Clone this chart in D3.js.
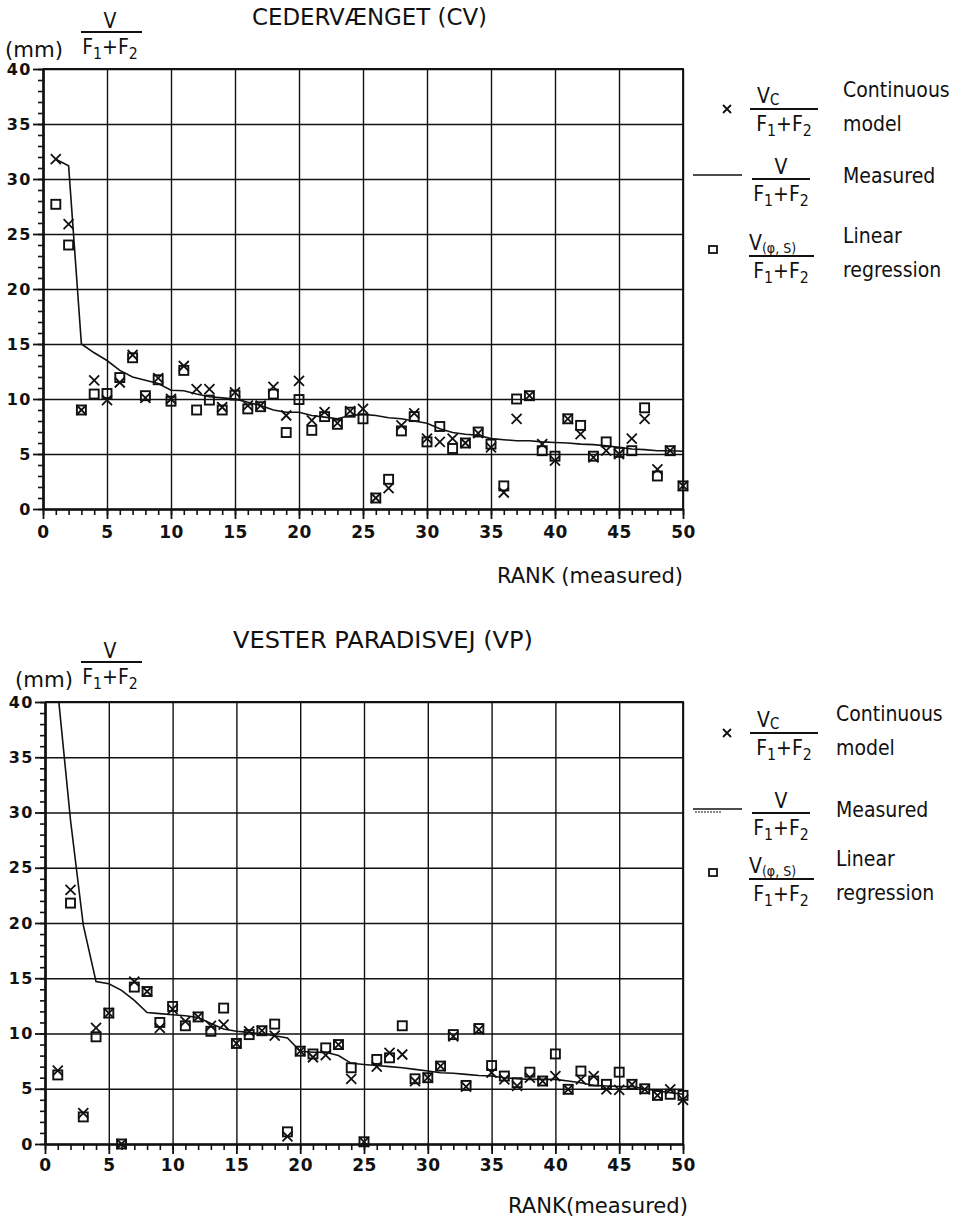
<!DOCTYPE html>
<html>
<head>
<meta charset="utf-8">
<title>V/(F1+F2) by rank</title>
<script src="https://d3js.org/d3.v7.min.js"></script>
<style>
  body { margin: 0; background: #fff; }
  svg { display: block; }
  .tick text { font-family: "DejaVu Sans", sans-serif; font-weight: bold; fill: #111; }
  .lbl { font-family: "DejaVu Sans Condensed", "DejaVu Sans", sans-serif; fill: #111; }
  .domain { stroke: #111; stroke-width: 2.2; }
  .tick line { stroke: #111; }
</style>
</head>
<body>
<svg id="chart" width="974" height="1221"></svg>
<script>
// tick values
const rankTicks = [0, 5, 10, 15, 20, 25, 30, 35, 40, 45, 50];
const valueTicks = [0, 5, 10, 15, 20, 25, 30, 35, 40];

// CEDERVÆNGET (CV), values for rank 1..50
const cvModel = [31.8, 25.9, 9.0, 11.7, 9.9, 11.5, 14.0, 10.1, 11.9, 10.0,
  13.0, 10.9, 10.9, 9.25, 10.6, 9.4, 9.4, 11.1, 8.5, 11.65,
  8.05, 8.8, 7.8, 8.9, 9.1, 1.0, 1.9, 7.6, 8.7, 6.4,
  6.1, 6.4, 6.0, 6.9, 5.6, 1.5, 8.2, 10.3, 5.9, 4.4,
  8.2, 6.8, 4.7, 5.3, 5.0, 6.4, 8.2, 3.6, 5.3, 2.1];
const cvRegression = [27.7, 24.0, 9.0, 10.45, 10.5, 11.95, 13.75, 10.3, 11.75, 9.8,
  12.6, 9.0, 9.9, 9.0, 10.35, 9.1, 9.3, 10.45, 6.95, 9.95,
  7.15, 8.4, 7.7, 8.8, 8.2, 1.0, 2.7, 7.1, 8.4, 6.1,
  7.5, 5.5, 6.0, 7.0, 5.9, 2.1, 10.0, 10.3, 5.3, 4.8,
  8.2, 7.6, 4.8, 6.1, 5.15, 5.3, 9.2, 3.0, 5.3, 2.1];
const cvMeasured = [31.8, 31.2, 15.0, 14.2, 13.5, 12.6, 12.0, 11.7, 11.4, 10.8,
  10.75, 10.45, 10.2, 10.1, 10.0, 9.7, 9.4, 9.0, 8.8, 8.8,
  8.5, 8.35, 8.2, 8.5, 8.6, 8.5, 8.3, 8.2, 8.0, 7.8,
  7.3, 6.95, 6.8, 6.7, 6.4, 6.3, 6.2, 6.2, 6.1, 6.05,
  6.0, 5.9, 5.85, 5.75, 5.6, 5.45, 5.4, 5.3, 5.3, 5.25];

// VESTER PARADISVEJ (VP), values for rank 1..50
const vpModel = [6.65, 23.0, 2.8, 10.5, 11.85, 0.0, 14.7, 13.8, 10.5, 12.2,
  11.1, 11.5, 10.7, 10.8, 9.1, 10.2, 10.25, 9.8, 0.7, 8.4,
  7.85, 8.05, 9.0, 5.9, 0.2, 7.0, 8.25, 8.1, 5.7, 6.0,
  7.05, 9.75, 5.2, 10.35, 6.45, 5.85, 5.25, 6.0, 5.7, 6.15,
  4.95, 5.85, 6.15, 4.95, 4.9, 5.4, 4.95, 4.4, 4.95, 4.0];
const vpRegression = [6.25, 21.8, 2.45, 9.7, 11.85, 0.0, 14.2, 13.8, 11.0, 12.45,
  10.7, 11.5, 10.2, 12.3, 9.1, 9.9, 10.25, 10.85, 1.1, 8.4,
  8.15, 8.7, 9.0, 6.9, 0.2, 7.65, 7.8, 10.7, 5.9, 6.0,
  7.05, 9.9, 5.3, 10.45, 7.1, 6.15, 5.55, 6.5, 5.7, 8.15,
  4.95, 6.6, 5.7, 5.4, 6.5, 5.4, 5.0, 4.4, 4.5, 4.4];
const vpMeasured = [41.0, 29.3, 19.8, 14.7, 14.5, 13.9, 13.0, 11.9, 11.8, 11.7,
  11.6, 11.45, 10.9, 10.4, 10.2, 10.1, 9.95, 9.8, 9.6, 8.4,
  8.3, 8.3, 8.0, 7.3, 7.2, 7.1, 7.0, 6.9, 6.75, 6.6,
  6.45, 6.4, 6.3, 6.2, 6.15, 6.0, 5.9, 5.85, 5.85, 5.85,
  5.7, 5.55, 5.3, 5.25, 5.2, 5.2, 5.0, 4.8, 4.65, 4.5];

const svg = d3.select("#chart");
const ink = "#111";

// F1 + F2 written with subscripts, centred on cx
function denom(g, cx, y, size) {
  let t = g.append("text").attr("class", "lbl").attr("x", cx).attr("y", y)
    .attr("text-anchor", "middle").style("font-size", size + "px");
  t.append("tspan").text("F");
  t.append("tspan").attr("dy", 5).style("font-size", (size * 0.75) + "px").text("1");
  t.append("tspan").attr("dy", -5).text("+F");
  t.append("tspan").attr("dy", 5).style("font-size", (size * 0.75) + "px").text("2");
}

function bar(g, x1, x2, y) {
  g.append("line").attr("x1", x1).attr("x2", x2).attr("y1", y).attr("y2", y)
    .attr("stroke", ink).attr("stroke-width", 1.8);
}

function drawPanel(p) {
  let g = svg.append("g");
  let x = d3.scaleLinear().domain([0, 50]).range([p.left, p.right]);
  let y = d3.scaleLinear().domain([0, 40]).range([p.bottom, p.top]);
  let w = p.right - p.left;

  // grid
  g.append("g").attr("transform", `translate(${p.left},0)`)
    .call(d3.axisLeft(y).tickValues(valueTicks).tickSize(-w).tickFormat(""))
    .call(s => s.select(".domain").remove())
    .selectAll("line").attr("stroke-width", 1.4);
  g.append("g").attr("transform", `translate(0,${p.bottom})`)
    .call(d3.axisBottom(x).tickValues(rankTicks).tickSize(-(p.bottom - p.top)).tickFormat(""))
    .call(s => s.select(".domain").remove())
    .selectAll("line").attr("stroke-width", 1.4);

  // frame top/right
  g.append("path").attr("d", `M${p.left},${p.top}H${p.right}V${p.bottom}`)
    .attr("fill", "none").attr("stroke", ink).attr("stroke-width", 1.8);

  // minor ticks
  g.append("g").attr("transform", `translate(${p.left},0)`)
    .call(d3.axisLeft(y).tickValues(d3.range(0, 41)).tickSize(5).tickSizeOuter(0).tickFormat(""))
    .selectAll(".tick line").attr("stroke-width", 1.6);
  g.append("g").attr("transform", `translate(0,${p.bottom})`)
    .call(d3.axisBottom(x).tickValues(d3.range(0, 51)).tickSize(6).tickSizeOuter(0).tickFormat(""))
    .selectAll(".tick line").attr("stroke-width", 1.6);

  // major ticks + labels
  g.append("g").attr("transform", `translate(${p.left},0)`)
    .call(d3.axisLeft(y).tickValues(valueTicks).tickSize(10).tickSizeOuter(0).tickPadding(1))
    .call(s => s.selectAll("text").style("font-size", "16px").attr("letter-spacing", 1.5))
    .selectAll(".tick line").attr("stroke-width", 1.8);
  g.append("g").attr("transform", `translate(0,${p.bottom})`)
    .call(d3.axisBottom(x).tickValues(rankTicks).tickSize(10).tickSizeOuter(0).tickPadding(p.xPad))
    .call(s => s.selectAll("text").style("font-size", "17px").attr("letter-spacing", 0.5))
    .selectAll(".tick line").attr("stroke-width", 1.8);

  // measured line, clipped to the plot area
  let clipId = "clip" + p.id;
  svg.append("clipPath").attr("id", clipId).append("rect")
    .attr("x", p.left).attr("y", p.top).attr("width", w).attr("height", p.bottom - p.top);
  g.append("path").datum(p.measured)
    .attr("clip-path", `url(#${clipId})`)
    .attr("fill", "none").attr("stroke", ink).attr("stroke-width", 1.6)
    .attr("d", d3.line().x((d, i) => x(i + 1)).y(d => y(d)));

  // linear regression squares
  g.selectAll(".sq").data(p.regression).enter().append("rect")
    .attr("x", (d, i) => x(i + 1) - 4.5).attr("y", d => y(d) - 4.5)
    .attr("width", 9).attr("height", 9)
    .attr("fill", "none").attr("stroke", ink).attr("stroke-width", 1.9);

  // continuous model crosses
  g.selectAll(".cross").data(p.model).enter().append("path")
    .attr("transform", (d, i) => `translate(${x(i + 1)},${y(d)})`)
    .attr("d", "M-5,-5L5,5M-5,5L5,-5")
    .attr("stroke", ink).attr("stroke-width", 1.8);

  // titles
  g.append("text").attr("class", "lbl").attr("x", p.titleX).attr("y", p.titleY)
    .attr("textLength", p.titleLen).attr("lengthAdjust", "spacingAndGlyphs")
    .style("font-size", "23px").text(p.title);
  g.append("text").attr("class", "lbl").attr("x", p.rankX).attr("y", p.rankY)
    .attr("textLength", p.rankLen).attr("lengthAdjust", "spacingAndGlyphs")
    .style("font-size", "21px").text(p.rankText);

  // y axis label: (mm) V / (F1+F2)
  g.append("text").attr("class", "lbl").attr("x", p.mmX).attr("y", p.mmY)
    .attr("textLength", 58).attr("lengthAdjust", "spacingAndGlyphs")
    .style("font-size", "21px").text("(mm)");
  g.append("text").attr("class", "lbl").attr("x", 110).attr("y", p.mmBar - 4)
    .attr("text-anchor", "middle").style("font-size", "21px").text("V");
  bar(g, 81, 142, p.mmBar);
  denom(g, 110, p.mmBar + 22, 21);

  // legend
  let L = p.legend;
  g.append("path").attr("transform", `translate(727,${L.y1})`)
    .attr("d", "M-4,-4L4,4M-4,4L4,-4").attr("stroke", ink).attr("stroke-width", 1.8);
  let vc = g.append("text").attr("class", "lbl").attr("x", 757).attr("y", L.y1 - 6)
    .style("font-size", "21px");
  vc.append("tspan").text("V");
  vc.append("tspan").attr("dy", 2).style("font-size", "15px").text("C");
  bar(g, 750, 818, L.y1);
  denom(g, 784, L.y1 + 22, 21);
  g.append("text").attr("class", "lbl").attr("x", L.textX).attr("y", L.y1 - 12)
    .style("font-size", "21px").text("Continuous");
  g.append("text").attr("class", "lbl").attr("x", L.textX).attr("y", L.y1 + 22)
    .style("font-size", "21px").text("model");

  g.append("line").attr("x1", 693).attr("x2", 742).attr("y1", L.y2 - 4).attr("y2", L.y2 - 4)
    .attr("stroke", ink).attr("stroke-width", 1.6);
  if (L.dashed) {
    g.append("line").attr("x1", 695).attr("x2", 722).attr("y1", L.y2 - 1).attr("y2", L.y2 - 1)
      .attr("stroke", ink).attr("stroke-width", 1.2).attr("stroke-dasharray", "2,1");
  }
  g.append("text").attr("class", "lbl").attr("x", 781).attr("y", L.y2 - 5)
    .attr("text-anchor", "middle").style("font-size", "21px").text("V");
  bar(g, 752, 810, L.y2);
  denom(g, 781, L.y2 + 22, 21);
  g.append("text").attr("class", "lbl").attr("x", L.textX).attr("y", L.y2 + 4)
    .style("font-size", "21px").text("Measured");

  g.append("rect").attr("x", 709).attr("y", L.y3 - 10).attr("width", 8).attr("height", 7)
    .attr("fill", "none").attr("stroke", ink).attr("stroke-width", 1.8);
  let vr = g.append("text").attr("class", "lbl").attr("x", 749).attr("y", L.y3 - 6)
    .style("font-size", "21px");
  vr.append("tspan").text("V");
  vr.append("tspan").attr("dy", 3).style("font-size", "14px").text("(φ, S)");
  bar(g, 749, 814, L.y3);
  denom(g, 781, L.y3 + 22, 21);
  g.append("text").attr("class", "lbl").attr("x", L.textX).attr("y", L.y3 - 13)
    .style("font-size", "21px").text("Linear");
  g.append("text").attr("class", "lbl").attr("x", L.textX).attr("y", L.y3 + 21)
    .style("font-size", "21px").text("regression");
}

drawPanel({
  id: "cv", left: 43, right: 683, top: 69, bottom: 509, xPad: 7,
  model: cvModel, regression: cvRegression, measured: cvMeasured,
  title: "CEDERVÆNGET (CV)", titleX: 252, titleY: 25, titleLen: 235,
  rankText: "RANK (measured)", rankX: 497, rankY: 583, rankLen: 186,
  mmX: 5, mmY: 57, mmBar: 32,
  legend: { y1: 109, y2: 179, y3: 256, textX: 843, dashed: false }
});

drawPanel({
  id: "vp", left: 45, right: 683, top: 702, bottom: 1144, xPad: 5,
  model: vpModel, regression: vpRegression, measured: vpMeasured,
  title: "VESTER PARADISVEJ (VP)", titleX: 233, titleY: 648, titleLen: 300,
  rankText: "RANK(measured)", rankX: 508, rankY: 1213, rankLen: 180,
  mmX: 15, mmY: 687, mmBar: 662,
  legend: { y1: 733, y2: 813, y3: 879, textX: 836, dashed: true }
});
</script>
</body>
</html>
